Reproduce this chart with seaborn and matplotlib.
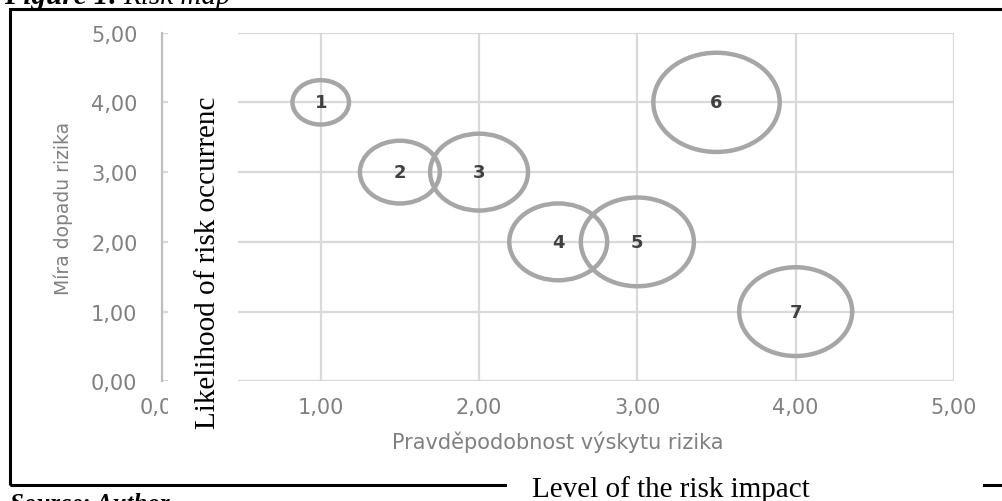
import numpy as np
import pandas as pd
import matplotlib
matplotlib.use("Agg")
import matplotlib.pyplot as plt
from matplotlib.path import Path
from matplotlib.patches import Rectangle
from matplotlib.ticker import FuncFormatter
import seaborn as sns

# Risk map data: probability (x), impact (y), bubble size
risk_ids = ["1", "2", "3", "4", "5", "6", "7"]
probability = [1.0, 1.5, 2.0, 2.5, 3.0, 3.5, 4.0]
impact = [4.0, 3.0, 3.0, 2.0, 2.0, 4.0, 1.0]
bubble_size = [1, 2, 3, 3, 4, 5, 4]

x_ticks = [0, 1, 2, 3, 4, 5]
y_ticks = [0, 1, 2, 3, 4, 5]

df = pd.DataFrame({"id": risk_ids, "p": probability, "i": impact, "s": bubble_size})

W, H = 1003, 502
sns.set_theme(style="white")
plt.rcParams["font.family"] = ["DejaVu Sans"]

fig = plt.figure(figsize=(W / 100, H / 100), dpi=100)
ax = fig.add_axes([162.4 / W, 1 - 382.4 / H, (954 - 162.4) / W, (382.4 - 33.6) / H])


def fx(px):
    return px / W


def fy(py):
    return 1 - py / H


# the bubbles in the source are stretched sideways, so use an elliptic marker
circle = Path.unit_circle()
ellipse = Path(circle.vertices * np.array([1.0, 0.785]), circle.codes)

sns.scatterplot(
    data=df, x="p", y="i", size="s", sizes=(1656, 8280), size_norm=(1, 5),
    marker=ellipse, color="#a6a6a6", facecolor="none", edgecolor="#a6a6a6",
    linewidth=3.2, legend=False, ax=ax, zorder=3,
)

for _, row in df.iterrows():
    ax.text(row["p"], row["i"], row["id"], ha="center", va="center",
            fontsize=13, fontweight="bold", color="#404040", zorder=4)

ax.set_xlim(0, 5)
ax.set_ylim(0, 5)
ax.set_xticks(x_ticks)
ax.set_yticks(y_ticks)
fmt = FuncFormatter(lambda v, pos: f"{v:.2f}".replace(".", ","))
ax.xaxis.set_major_formatter(fmt)
ax.yaxis.set_major_formatter(fmt)
ax.tick_params(axis="both", length=0, labelsize=15, labelcolor="#808080")
ax.tick_params(axis="y", pad=18)
ax.tick_params(axis="x", pad=11)
ax.grid(True, color="#d9d9d9", linewidth=1.6)
ax.set_axisbelow(True)
for side in ["top", "right", "bottom"]:
    ax.spines[side].set_visible(False)
ax.spines["left"].set_color("#bfbfbf")
ax.spines["left"].set_linewidth(1.6)

ax.set_xlabel("Pravděpodobnost výskytu rizika", fontsize=15, color="#808080")
ax.set_ylabel("Míra dopadu rizika", fontsize=13.5, color="#808080")
ax.xaxis.set_label_coords(0.5, (382.4 - 432) / 348.8)
ax.yaxis.set_label_coords((73 - 162.4) / 791.6, 0.5)

# document frame around the chart
fig.add_artist(Rectangle((fx(10), fy(485.5)), fx(1020) - fx(10), fy(9.5) - fy(485.5),
                         transform=fig.transFigure, fill=False, edgecolor="black",
                         linewidth=2.2, zorder=1))

# overlaid english captions on white patches
fig.add_artist(Rectangle((fx(168), fy(432)), fx(238) - fx(168), fy(20) - fy(432),
                         transform=fig.transFigure, facecolor="white", edgecolor="none", zorder=2))
fig.text(fx(208), fy(263), "Likelihood of risk occurrenc", rotation=90, ha="center", va="center",
         fontsize=21, family="Liberation Serif", color="black", zorder=3)

fig.add_artist(Rectangle((fx(507), fy(510)), fx(983) - fx(507), fy(474) - fy(510),
                         transform=fig.transFigure, facecolor="white", edgecolor="none", zorder=2))
fig.text(fx(532), fy(497), "Level of the risk impact", ha="left", va="baseline",
         fontsize=21, family="Liberation Serif", color="black", zorder=3)

# figure caption and source, cut by the page edges
fig.text(fx(4), fy(4), "Figure 1:", ha="left", va="baseline", fontsize=21,
         family="Liberation Serif", fontweight="bold", style="italic", color="black")
fig.text(fx(123), fy(4), "Risk map", ha="left", va="baseline", fontsize=21,
         family="Liberation Serif", style="italic", color="black")
fig.text(fx(10), fy(493), "Source: Author", ha="left", va="top", fontsize=18,
         family="Liberation Serif", fontweight="bold", style="italic", color="black")

fig.savefig("out.png", dpi=100)
